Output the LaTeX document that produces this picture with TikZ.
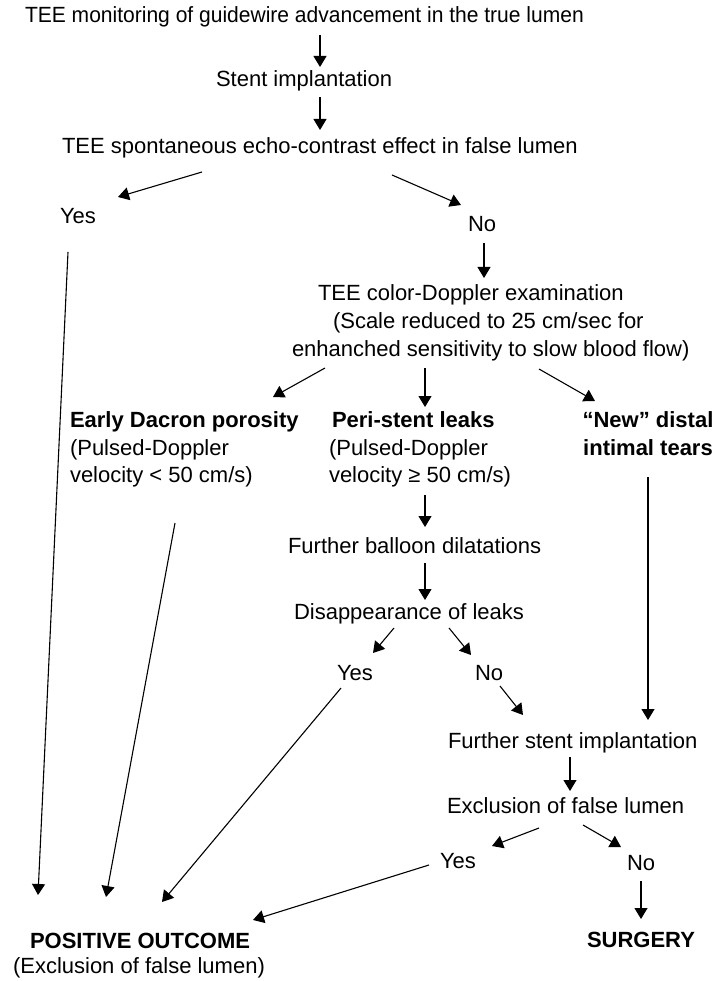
\documentclass[tikz,border=0pt]{standalone}
\usepackage{fontspec}
\setmainfont{Liberation Sans}
\usetikzlibrary{arrows.meta}
\begin{document}
\begin{tikzpicture}[x=1pt,y=-1pt,
  txt/.style={inner sep=0pt,outer sep=0pt,anchor=base west,font=\fontsize{22}{27.5}\selectfont},
  btxt/.style={txt,font=\fontsize{22}{27.5}\selectfont\bfseries},
  arr/.style={line width=1.1pt,-{Triangle[length=11pt,width=13pt]}},
  ln/.style={line width=1.1pt}]
\useasboundingbox (0,0) rectangle (724,981);
% nodes
\node[txt] (title) at (25,23) {\scalebox{0.956}[1]{TEE monitoring of guidewire advancement in the true lumen}};
\node[txt] (stent) at (216,87) {Stent implantation};
\node[txt] (spont) at (62,154) {TEE spontaneous echo-contrast effect in false lumen};
\node[txt] (yesA) at (60,224) {Yes};
\node[txt] (noA) at (468,232) {No};
\node[txt] (cda) at (318,300) {TEE color-Doppler examination};
\node[txt] (cdb) at (333,328) {(Scale reduced to 25 cm/sec for};
\node[txt] (cdc) at (292,356) {enhanched sensitivity to slow blood flow)};
\node[btxt] (eda) at (70,427) {Early Dacron porosity};
\node[txt] (edb) at (70,455) {(Pulsed-Doppler};
\node[txt] (edc) at (70,482) {velocity < 50 cm/s)};
\node[btxt] (psa) at (332,427) {Peri-stent leaks};
\node[txt] (psb) at (329,455) {(Pulsed-Doppler};
\node[txt] (psc) at (329,482) {velocity ≥ 50 cm/s)};
\node[btxt,anchor=base] (nwa) at (648,427) {“New” distal};
\node[btxt,anchor=base] (nwb) at (648,455) {intimal tears};
\node[txt] (fb) at (288,553) {Further balloon dilatations};
\node[txt] (dl) at (294,619) {Disappearance of leaks};
\node[txt] (yesB) at (337,680) {Yes};
\node[txt] (noB) at (475,680) {No};
\node[txt] (fs) at (448,748) {Further stent implantation};
\node[txt] (ex) at (447,813) {Exclusion of false lumen};
\node[txt] (yesC) at (440,868) {Yes};
\node[txt] (noC) at (627,870) {No};
\node[btxt] (sg) at (587,947) {SURGERY};
\node[btxt] (poa) at (30,948) {POSITIVE OUTCOME};
\node[txt] (pob) at (13,973) {(Exclusion of false lumen)};
% connectors
\draw[arr] ([shift={(295,12)}]title.base west) -- ([shift={(104,-20)}]stent.base west);
\draw[arr] ([shift={(104,10)}]stent.base west) -- ([shift={(258,-24)}]spont.base west);
\draw[arr] ([shift={(140,18)}]spont.base west) -- ([shift={(58,-27)}]yesA.base west);
\draw[arr] ([shift={(330,21)}]spont.base west) -- ([shift={(-7,-27)}]noA.base west);
\draw[arr] ([shift={(16,11)}]noA.base west) -- ([shift={(166,-22)}]cda.base west);
\draw[arr] ([shift={(33,12)}]cdc.base west) -- ([shift={(203,-30)}]eda.base west);
\draw[arr] ([shift={(133,12)}]cdc.base west) -- ([shift={(93,-20)}]psa.base west);
\draw[arr] ([shift={(247,13)}]cdc.base west) -- ([shift={(-53,-26)}]nwa.base);
\draw[arr] ([shift={(96,13)}]psc.base west) -- ([shift={(137,-26)}]fb.base west);
\draw[arr] ([shift={(137,10)}]fb.base west) -- ([shift={(131,-19)}]dl.base west);
\draw[arr] ([shift={(100,9)}]dl.base west) -- ([shift={(36,-27)}]yesB.base west);
\draw[arr] ([shift={(155,9)}]dl.base west) -- ([shift={(-4,-25)}]noB.base west);
\draw[arr] ([shift={(25,6)}]noB.base west) -- ([shift={(75,-33)}]fs.base west);
\draw[arr] ([shift={(0,22)}]nwb.base) -- ([shift={(200,-28)}]fs.base west);
\draw[arr] ([shift={(122,9)}]fs.base west) -- ([shift={(123,-22)}]ex.base west);
\draw[arr] ([shift={(92,15)}]ex.base west) -- ([shift={(52,-22)}]yesC.base west);
\draw[arr] ([shift={(136,12)}]ex.base west) -- ([shift={(-6,-23)}]noC.base west);
\draw[arr] ([shift={(14,11)}]noC.base west) -- ([shift={(54,-28)}]sg.base west);
\draw[arr] ([shift={(8,28)}]yesA.base west) -- ([shift={(8,-53)}]poa.base west);
\draw[arr] ([shift={(105,41)}]edc.base west) -- ([shift={(76,-51)}]poa.base west);
\draw[arr] ([shift={(4,8)}]yesB.base west) -- ([shift={(132,-46)}]poa.base west);
\draw[arr] ([shift={(-11,-3)}]yesC.base west) -- ([shift={(223,-28)}]poa.base west);
\end{tikzpicture}
\end{document}
